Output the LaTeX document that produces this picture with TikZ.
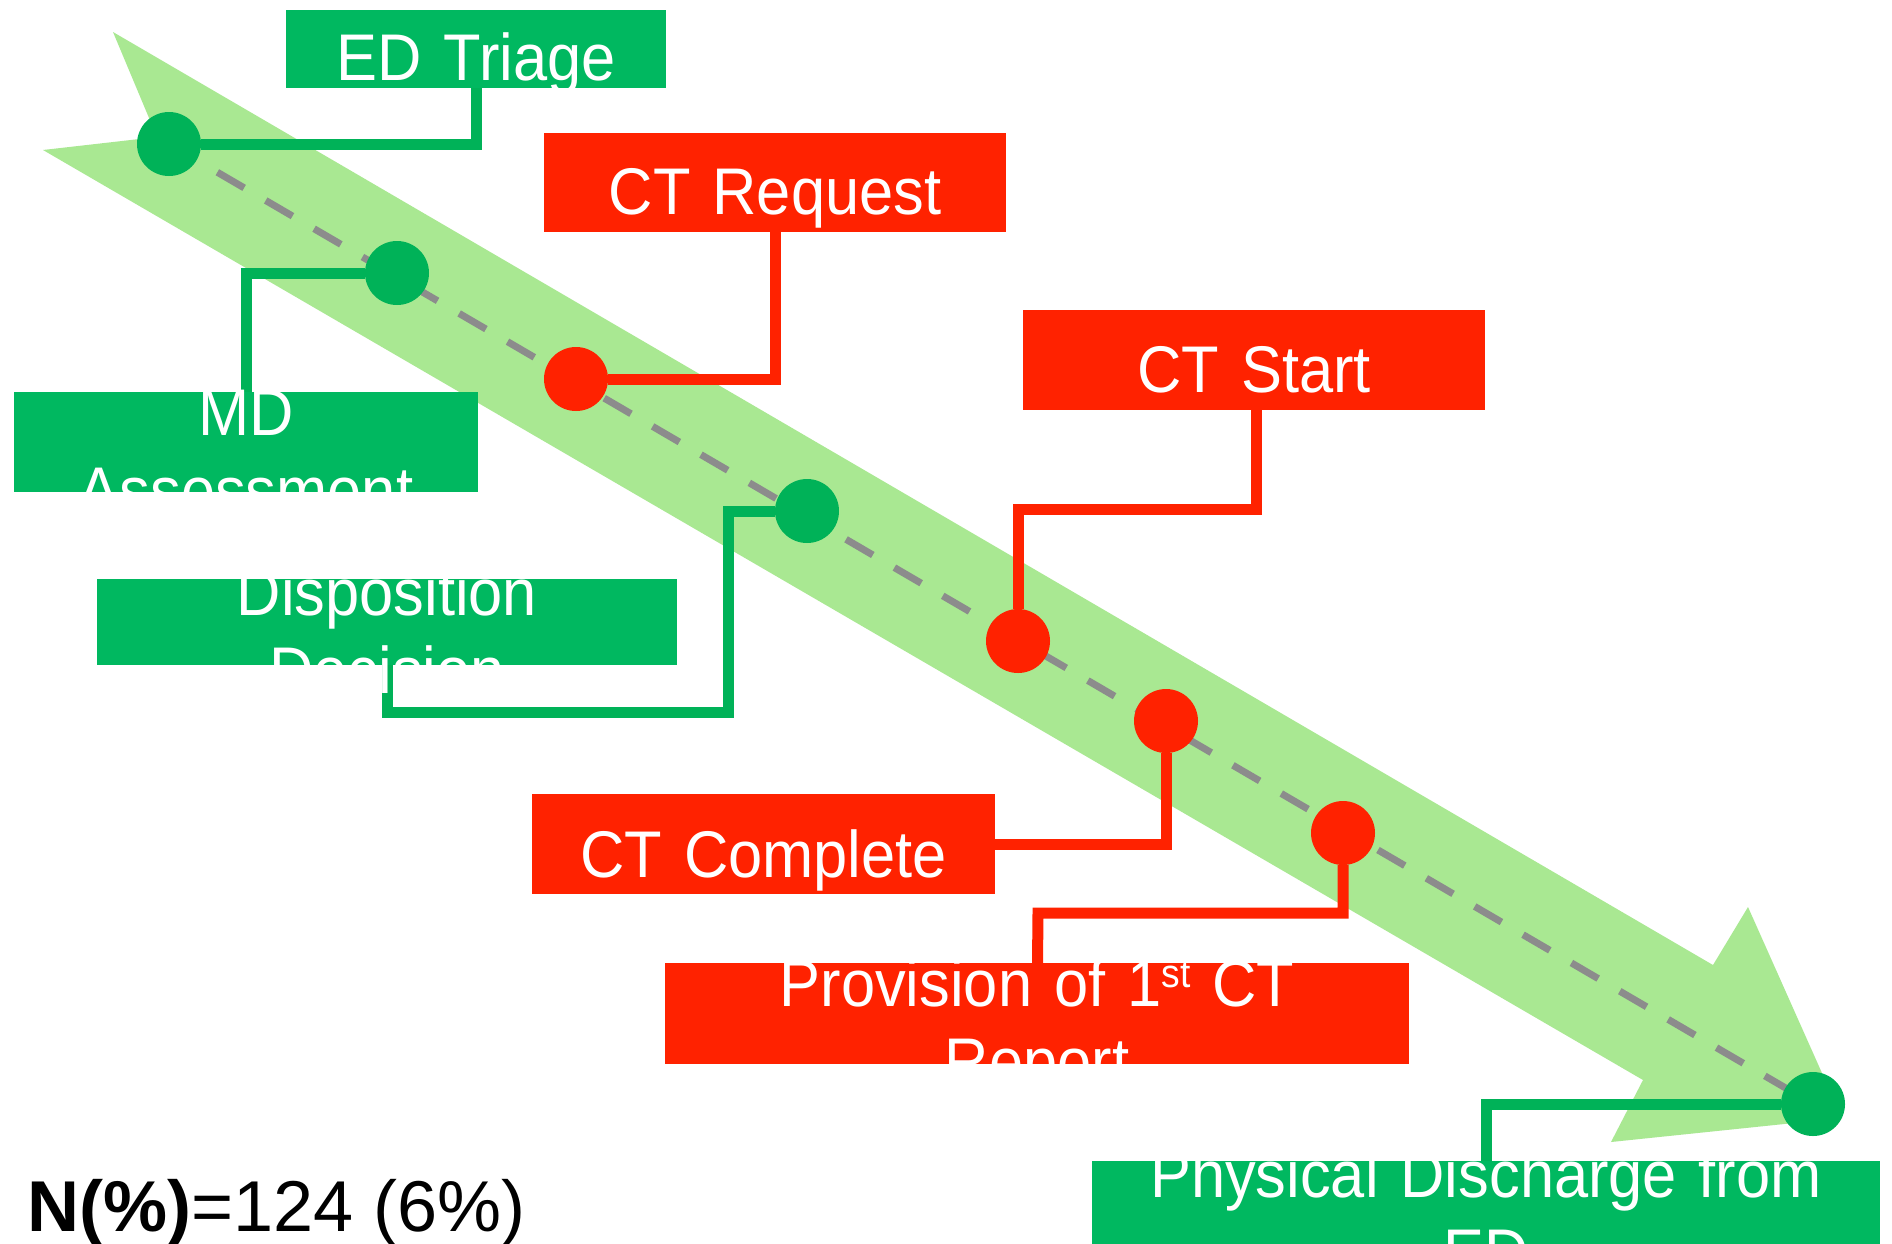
\documentclass[tikz,border=0pt]{standalone}
\usepackage{fontspec}
\setmainfont{Liberation Sans}
\newfontfamily\stagefont[FakeStretch=0.93]{Liberation Sans}
\usetikzlibrary{calc}
\definecolor{boxgreen}{HTML}{00B860}
\definecolor{boxred}{HTML}{FF2200}
\definecolor{dotgreen}{HTML}{00B258}
\definecolor{bandgreen}{HTML}{A9E892}
\definecolor{dashgray}{HTML}{8C8C8C}
\pgfdeclarelayer{band}
\pgfdeclarelayer{wires}
\pgfsetlayers{band,wires,main}
% small raised ordinal suffix
\newcommand{\ordsuffix}[1]{\raisebox{19pt}{\fontsize{40}{40}\selectfont #1}}
\begin{document}
\begin{tikzpicture}[x=1pt,y=-1pt,
  stagebox/.style={rectangle, inner sep=0pt, outer sep=0pt},
  greenbox/.style={stagebox, fill=boxgreen},
  redbox/.style={stagebox, fill=boxred},
  stagetext/.style={anchor=base, text=white, text width=900pt, align=center,
    inner sep=0pt, font=\stagefont\fontsize{66}{78}\selectfont},
  event/.style={circle, inner sep=0pt, outer sep=0pt, minimum size=64pt},
  greenevent/.style={event, fill=dotgreen},
  redevent/.style={event, fill=boxred},
  greenwire/.style={draw=dotgreen, line width=11pt},
  redwire/.style={draw=boxred, line width=11pt},
]
\clip (0,0) rectangle (1892,1243);

% stage boxes
\node[greenbox, minimum width=380pt, minimum height=78pt]  (triage)  at (476,49) {};
\node[redbox,   minimum width=462pt, minimum height=99pt]  (ctreq)   at (775,182.5) {};
\node[greenbox, minimum width=464pt, minimum height=100pt] (md)      at (246,442) {};
\node[redbox,   minimum width=462pt, minimum height=100pt] (ctstart) at (1254,360) {};
\node[greenbox, minimum width=580pt, minimum height=86pt]  (disp)    at (387,622) {};
\node[redbox,   minimum width=463pt, minimum height=100pt] (ctcomp)  at (763.5,844) {};
\node[redbox,   minimum width=744pt, minimum height=101pt] (prov)    at (1037,1013.5) {};
\node[greenbox, minimum width=788pt, minimum height=87pt]  (phys)    at (1486,1204.5) {};

% stage captions
\node[stagetext] (triage-t)  at ($(triage.center)+(0,31)$)  {ED Triage};
\node[stagetext] (ctreq-t)   at ($(ctreq.center)+(0,32)$)   {CT Request};
\node[stagetext] (md-t)      at ($(md.center)+(0,-7)$)      {MD\\Assessment};
\node[stagetext] (ctstart-t) at ($(ctstart.center)+(0,32)$) {CT Start};
\node[stagetext] (disp-t)    at ($(disp.center)+(0,-7)$)    {Disposition\\Decision};
\node[stagetext] (ctcomp-t)  at ($(ctcomp.center)+(0,33)$)  {CT Complete};
\node[stagetext] (prov-t)    at ($(prov.center)+(0,-7)$)    {Provision of 1\ordsuffix{st} CT\\Report};
\node[stagetext] (phys-t)    at ($(phys.center)+(0,-7)$)    {Physical Discharge from\\ED};

% events along the timeline
\node[greenevent] (d1) at (169,144) {};
\node[greenevent] (d2) at (397,273) {};
\node[redevent]   (d3) at (576,379) {};
\node[greenevent] (d4) at (807,511) {};
\node[redevent]   (d5) at (1018,641) {};
\node[redevent]   (d6) at (1166,721) {};
\node[redevent]   (d7) at (1343,833) {};
\node[greenevent] (d8) at (1813,1104) {};

% connectors from events to their boxes
\begin{pgfonlayer}{wires}
  \draw[greenwire] (d1) -| (triage);
  \draw[greenwire] (d2) -| (md);
  \draw[redwire]   (d3) -| (ctreq);
  \coordinate (k4) at (728,712);
  \draw[greenwire] (d4) -| (k4) -| (disp);
  \coordinate (k5) at (1256,509);
  \draw[redwire]   (d5) |- (k5) -- (k5 |- ctstart.south);
  \draw[redwire]   (d6) |- (ctcomp);
  \coordinate (k7) at (1038,913);
  \draw[redwire]   (d7) |- (k7) -- (prov);
  \draw[greenwire] (d8) -| (phys);
\end{pgfonlayer}

% the broad timeline arrow with its dashed axis
\begin{pgfonlayer}{band}
  \fill[white] (0,0) rectangle (1892,1243);
  \fill[bandgreen] (113,32) -- (157,137) -- (43,150) -- (1643,1080)
    -- (1611,1142) -- (1842,1118) -- (1748,907) -- (1713,965) -- cycle;
  \draw[dashgray, line width=7pt, dash pattern=on 31pt off 25pt]
    (d1.center) -- (d8.center);
\end{pgfonlayer}

\node[anchor=base west, inner sep=0pt, font=\fontsize{72}{86}\selectfont]
  (share) at (27,1231) {\textbf{N(\%)}=124 (6\%)};
\end{tikzpicture}
\end{document}
